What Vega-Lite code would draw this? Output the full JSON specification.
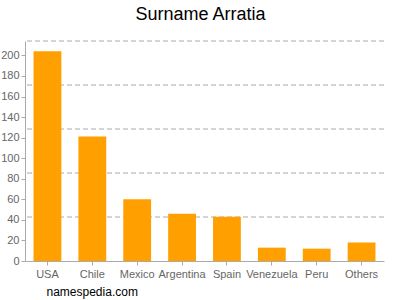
{
  "$schema": "https://vega.github.io/schema/vega-lite/v6.json",
  "autosize": {"type": "none"},
  "width": 359,
  "height": 220,
  "padding": {"left": 25, "top": 41, "right": 16, "bottom": 39},
  "background": "white",
  "title": {
    "text": "Surname Arratia",
    "fontSize": 18,
    "font": "Liberation Sans",
    "fontWeight": "normal",
    "color": "#000000",
    "offset": 17,
    "dx": -4
  },
  "config": {
    "view": {"stroke": null},
    "font": "Liberation Sans"
  },
  "layer": [
    {
      "data": {"values": [
        {"g": 42.8}, {"g": 85.6}, {"g": 128.4}, {"g": 171.2}, {"g": 214}
      ]},
      "mark": {"type": "rule", "color": "#aaaaaa", "strokeDash": [5, 3], "strokeWidth": 1},
      "encoding": {
        "y": {
          "field": "g", "type": "quantitative",
          "scale": {"domain": [0, 214], "nice": false},
          "axis": {
            "title": null,
            "values": [0, 20, 40, 60, 80, 100, 120, 140, 160, 180, 200],
            "grid": false,
            "labelFontSize": 11,
            "labelColor": "#666666",
            "labelPadding": 2,
            "domainColor": "#aaaaaa",
            "tickColor": "#aaaaaa",
            "tickSize": 4
          }
        }
      }
    },
    {
      "data": {"values": [
        {"country": "USA", "count": 204},
        {"country": "Chile", "count": 121},
        {"country": "Mexico", "count": 60},
        {"country": "Argentina", "count": 46},
        {"country": "Spain", "count": 43},
        {"country": "Venezuela", "count": 13},
        {"country": "Peru", "count": 12},
        {"country": "Others", "count": 18}
      ]},
      "mark": {"type": "bar", "color": "#ffa000"},
      "encoding": {
        "x": {
          "field": "country", "type": "nominal", "sort": null,
          "scale": {"paddingInner": 0.38, "paddingOuter": 0.19},
          "axis": {
            "title": "namespedia.com",
            "titleAnchor": "start",
            "titleX": 21,
            "titleY": 34,
            "titleBaseline": "alphabetic",
            "titleFontSize": 12,
            "titleFontWeight": "normal",
            "titleColor": "#000000",
            "labelAngle": 0,
            "labelFontSize": 11,
            "labelColor": "#666666",
            "labelPadding": 3,
            "domainColor": "#aaaaaa",
            "tickColor": "#aaaaaa",
            "tickSize": 4,
            "grid": false
          }
        },
        "y": {
          "field": "count", "type": "quantitative",
          "scale": {"domain": [0, 214], "nice": false},
          "axis": {
            "title": null,
            "values": [0, 20, 40, 60, 80, 100, 120, 140, 160, 180, 200],
            "grid": false,
            "labelFontSize": 11,
            "labelColor": "#666666",
            "labelPadding": 2,
            "domainColor": "#aaaaaa",
            "tickColor": "#aaaaaa",
            "tickSize": 4
          }
        }
      }
    }
  ]
}
